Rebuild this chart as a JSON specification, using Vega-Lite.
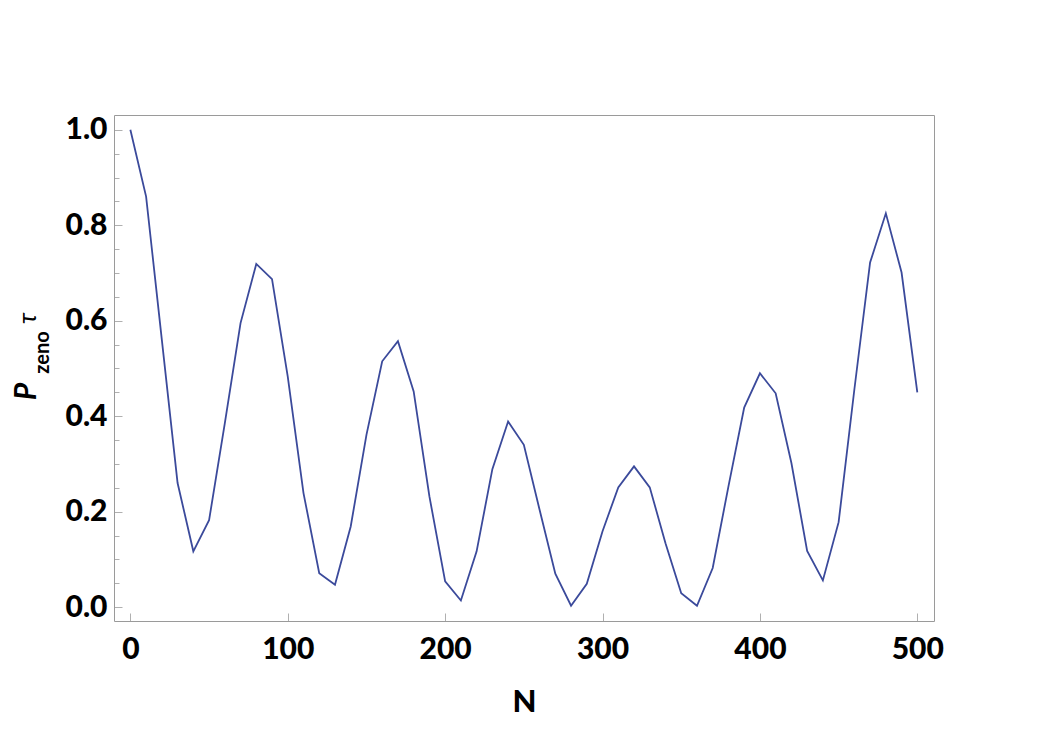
{
  "$schema": "https://vega.github.io/schema/vega-lite/v6.json",
  "width": 820,
  "height": 506,
  "autosize": {"type": "none"},
  "padding": {"left": 114, "top": 115, "right": 116, "bottom": 115},
  "background": "white",
  "config": {
    "view": {"stroke": null},
    "axis": {"labelFont": "Lato", "titleFont": "Lato", "labelColor": "black", "titleColor": "black", "domain": false, "grid": false, "tickColor": "#b0b0b0", "tickWidth": 1}
  },
  "data": {"values": [
    {"N": 0, "P": 1.0}, {"N": 10, "P": 0.860}, {"N": 20, "P": 0.56}, {"N": 30, "P": 0.260},
    {"N": 40, "P": 0.117}, {"N": 50, "P": 0.182}, {"N": 60, "P": 0.385}, {"N": 70, "P": 0.595},
    {"N": 80, "P": 0.719}, {"N": 90, "P": 0.687}, {"N": 100, "P": 0.483}, {"N": 110, "P": 0.239},
    {"N": 120, "P": 0.071}, {"N": 130, "P": 0.047}, {"N": 140, "P": 0.169}, {"N": 150, "P": 0.361},
    {"N": 160, "P": 0.515}, {"N": 170, "P": 0.557}, {"N": 180, "P": 0.452}, {"N": 190, "P": 0.232},
    {"N": 200, "P": 0.054}, {"N": 210, "P": 0.014}, {"N": 220, "P": 0.117}, {"N": 230, "P": 0.289},
    {"N": 240, "P": 0.389}, {"N": 250, "P": 0.340}, {"N": 260, "P": 0.204}, {"N": 270, "P": 0.070},
    {"N": 280, "P": 0.003}, {"N": 290, "P": 0.049}, {"N": 300, "P": 0.159}, {"N": 310, "P": 0.251},
    {"N": 320, "P": 0.295}, {"N": 330, "P": 0.251}, {"N": 340, "P": 0.134}, {"N": 350, "P": 0.029},
    {"N": 360, "P": 0.003}, {"N": 370, "P": 0.082}, {"N": 380, "P": 0.253}, {"N": 390, "P": 0.418},
    {"N": 400, "P": 0.490}, {"N": 410, "P": 0.448}, {"N": 420, "P": 0.302}, {"N": 430, "P": 0.118},
    {"N": 440, "P": 0.056}, {"N": 450, "P": 0.178}, {"N": 460, "P": 0.456}, {"N": 470, "P": 0.722},
    {"N": 480, "P": 0.825}, {"N": 490, "P": 0.701}, {"N": 500, "P": 0.450}
  ]},
  "resolve": {"axis": {"y": "independent", "x": "independent"}, "scale": {"y": "shared", "x": "shared"}},
  "layer": [
    {
      "mark": {"type": "line", "strokeOpacity": 0},
      "encoding": {
        "x": {"field": "N", "type": "quantitative", "scale": {"domain": [-10.4, 510.6], "nice": false, "zero": false},
          "axis": {"orient": "top", "domain": true, "domainColor": "#9a9a9a", "ticks": false, "labels": false, "title": null}},
        "y": {"field": "P", "type": "quantitative", "scale": {"domain": [-0.029, 1.031], "nice": false, "zero": false},
          "axis": {"orient": "left", "values": [0.05, 0.1, 0.15, 0.25, 0.3, 0.35, 0.45, 0.5, 0.55, 0.65, 0.7, 0.75, 0.85, 0.9, 0.95], "labels": false, "tickSize": -5,
            "title": "zeno", "titleFontSize": 20, "titleFontWeight": "bold", "titleAngle": -90, "titleAlign": "center", "titleBaseline": "alphabetic", "titleX": -66, "titleY": 237}}
      }
    },
    {
      "mark": {"type": "line", "strokeOpacity": 0},
      "encoding": {
        "x": {"field": "N", "type": "quantitative", "axis": null},
        "y": {"field": "P", "type": "quantitative",
          "axis": {"orient": "right", "domain": true, "domainColor": "#9a9a9a", "values": [0], "labels": false, "ticks": false,
            "title": "τ", "titleFontSize": 26, "titleFontWeight": "normal", "titleFontStyle": "italic", "titleAngle": -90, "titleAlign": "center", "titleBaseline": "alphabetic", "titleX": -899, "titleY": 203}}
      }
    },
    {
      "mark": {"type": "line", "color": "#3b4a9b", "strokeWidth": 1.8},
      "encoding": {
        "x": {"field": "N", "type": "quantitative",
          "axis": {"orient": "bottom", "domain": true, "domainColor": "#9a9a9a", "values": [0, 100, 200, 300, 400, 500], "tickSize": -8, "labelPadding": 21, "labelFontSize": 30, "labelFontWeight": 900,
            "title": "N", "titleFontSize": 31, "titleFontWeight": 900, "titleBaseline": "alphabetic", "titleX": 410, "titleY": 90}},
        "y": {"field": "P", "type": "quantitative",
          "axis": {"orient": "left", "domain": true, "domainColor": "#9a9a9a", "values": [0, 0.2, 0.4, 0.6, 0.8, 1.0], "format": ".1f", "tickSize": -8, "labelPadding": 15, "labelFontSize": 30, "labelFontWeight": 900,
            "title": "P", "titleFontSize": 30, "titleFontWeight": "bold", "titleFontStyle": "italic", "titleAngle": -90, "titleAlign": "center", "titleBaseline": "alphabetic", "titleX": -79, "titleY": 276}}
      }
    }
  ]
}
